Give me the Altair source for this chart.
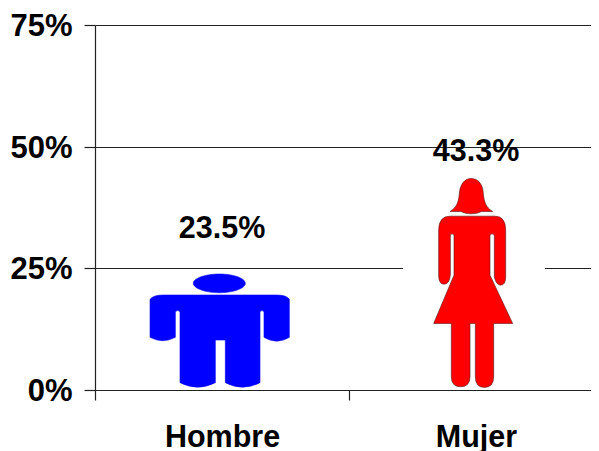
import re
import altair as alt
import pandas as pd

categories = ["Hombre", "Mujer"]
shares = [0.235, 0.433]
fills = ["#0000FF", "#FF0000"]
y_ticks = [0, 0.25, 0.5, 0.75]

# Pictogram outlines, traced in a local drawing space
man_outline = (
    "M268,42 C311,42 346,55 346,70 C346,85 311,98 268,98 C225,98 190,85 190,70 C190,55 225,42 268,42 Z "
    "M60,118 Q70,105 100,105 L440,105 Q470,105 478,118 L478,232 Q440,255 402,232 L402,155 Q396,148 390,155 "
    "L390,368 Q338,395 286,368 L286,240 L256,240 L256,368 Q203,395 150,368 L150,155 Q143,148 136,155 "
    "L136,232 Q98,252 60,232 Z"
)
woman_outline = (
    "M213,145 C234,145 249,162 250,190 C252,215 258,232 278,244 L245,244 Q232,251 213,251 Q196,251 182,244 "
    "L150,244 C170,232 176,215 178,190 C180,162 194,145 213,145 Z "
    "M116,300 Q116,258 150,258 L285,258 Q317,258 317,300 L317,440 Q317,465 302,465 Q288,465 283,440 "
    "L283,315 Q276,307 270,315 L270,435 L338,580 L281,580 L281,740 Q281,772 253,772 Q226,772 226,740 "
    "L226,580 L210,580 L210,740 Q210,770 182,770 Q154,770 154,740 L154,580 L101,580 L162,435 L162,315 "
    "Q156,307 151,315 L151,435 Q148,462 132,462 Q116,462 116,435 Z"
)


def unit_path(path, cx, cy, r):
    """Rescale an outline so that r drawing units become one symbol unit."""
    nums = iter(range(10**6))

    def conv(m):
        v = float(m.group())
        return f"{(v - (cx if next(nums) % 2 == 0 else cy)) / r:.4f}"

    return re.sub(r"-?\d+(?:\.\d+)?", conv, path)


man_path = unit_path(man_outline, 276, 218.4, 171.6)
woman_path = unit_path(woman_outline, 228, 463.5, 316.2)

df = pd.DataFrame({"category": categories, "share": shares})

font = "Liberation Sans"
ink = "#222222"
font_size = 30.5

x = alt.X(
    "category:N",
    sort=categories,
    scale=alt.Scale(type="band", domain=categories, range=[0, 508], paddingInner=0, paddingOuter=0),
    axis=alt.Axis(
        title=None, labelAngle=0, grid=False, tickBand="extent", tickSize=10, tickColor=ink, domainColor=ink,
        tickWidth=1.2, domainWidth=1.2, labelFont=font, labelFontWeight="bold", labelFontSize=font_size,
        labelColor="#000000", labelPadding=46, zindex=1, labelBaseline="alphabetic",
    ),
)
y_axis = alt.Axis(
    title=None, values=y_ticks, format=".0%", grid=True, gridColor=ink, gridWidth=1.2, tickSize=11, tickColor=ink,
    tickWidth=1.2, domainColor=ink, domainWidth=1.2, labelFont=font, labelFontWeight="bold", labelFontSize=31,
    labelColor="#000000", labelPadding=12, labelOffset=1.5, zindex=0,
)
y_scale = alt.Scale(domain=[0, 0.75], nice=False)
y = alt.Y("share:Q", scale=y_scale, axis=y_axis)

base = alt.Chart(df)

backing = base.mark_bar(color="#FFFFFF", size=142, xOffset=-2).encode(x=x, y=y)

icons = (
    base.transform_calculate(mid="datum.share / 2")
    .mark_point(filled=True, opacity=1, strokeWidth=0.6)
    .encode(
        x=x,
        y=alt.Y("mid:Q", scale=y_scale, axis=y_axis),
        shape=alt.Shape("category:N", scale=alt.Scale(domain=categories, range=[man_path, woman_path]), legend=None),
        fill=alt.Fill("category:N", scale=alt.Scale(domain=categories, range=fills), legend=None),
        stroke=alt.Stroke("category:N", scale=alt.Scale(domain=categories, range=["#0000FF", "#5A1010"]), legend=None),
        size=alt.Size(
            "share:Q",
            scale=alt.Scale(type="pow", exponent=2, domain=[0, 0.75], range=[0, 133225]),
            legend=None,
        ),
    )
)


def value_label(name, lift):
    return (
        base.transform_filter(alt.datum.category == name)
        .mark_text(font=font, fontWeight="bold", fontSize=font_size, color="#000000", baseline="alphabetic", dy=-lift)
        .encode(x=x, y=y, text=alt.Text("share:Q", format=".1%"))
    )


chart = (
    alt.layer(backing, icons, value_label("Hombre", 37.5), value_label("Mujer", 18))
    .properties(
        width=496,
        height=365,
        autosize=alt.AutoSizeParams(type="none"),
        padding={"left": 87, "top": 17, "right": 0, "bottom": 61},
    )
    .configure_view(stroke=None)
    .configure(background="#FFFFFF")
)

chart.save("out.html", embed_options={"renderer": "svg", "actions": False})
